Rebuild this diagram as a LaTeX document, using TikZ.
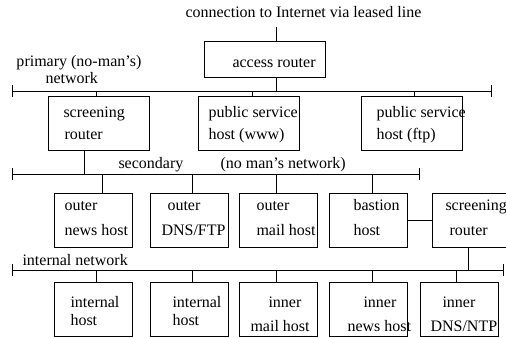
\documentclass[tikz,border=0pt]{standalone}
\usepackage{fontspec}
\setmainfont{Liberation Serif}
\usetikzlibrary{arrows.meta}

\begin{document}
\begin{tikzpicture}[x=0.5pt,y=-0.5pt,line width=0.5pt,font=\fontsize{8}{9.6}\selectfont,
  box/.style={draw,anchor=north west,inner sep=0,minimum width=39pt,minimum height=27pt},
  wbox/.style={box,minimum width=50.5pt},
  lbl/.style={anchor=base west,inner sep=0},
  bus/.style={{Bar[width=6pt]}-{Bar[width=6pt]}}]
\useasboundingbox (0,0) rectangle (506,337);
% leased line and access router
\node[lbl] (inet) at (185,18) {connection to Internet via leased line};
\coordinate (line) at (276,27);
\node[box,minimum width=60.5pt,minimum height=18pt] (acc) at (204,41) {};
\node[lbl] (acct) at (232,67) {access router};
% primary network
\coordinate (pa) at (12,91); \coordinate (pb) at (492,91);
\draw[bus] (pa) -- (pb);
\node[lbl] (prim) at (16,66) {primary (no-man’s)};
\node[lbl] (primb) at (45,83) {network};
\node[wbox] (scr) at (48,96) {};
\node[lbl] (scra) at (63,117) {screening};
\node[lbl] (scrb) at (64,139) {router};
\node[wbox] (www) at (198,96) {};
\node[lbl] (wwwa) at (208,117) {public service};
\node[lbl] (wwwb) at (208,139) {host (www)};
\node[wbox] (ftp) at (361,96) {};
\node[lbl] (ftpa) at (376,117) {public service};
\node[lbl] (ftpb) at (376,139) {host (ftp)};
\draw (line) -- (line |- acc.north);
\draw (line |- acc.south) -- (line |- pa);
\foreach \x/\n in {96/scr,252/www,414/ftp}
  \draw (\x,0 |- pa) -- (\x,0 |- \n.north);
% secondary network
\coordinate (sa) at (12,174); \coordinate (sb) at (420,174);
\draw[bus] (sa) -- (sb);
\draw (84,0 |- scr.south) -- (84,0 |- sa);
\node[lbl] (seca) at (118,168) {secondary};
\node[lbl] (secb) at (220,168) {(no man’s network)};
\node[box] (onh) at (54,193) {};
\node[lbl] (onha) at (64,210) {outer};
\node[lbl] (onhb) at (64,235) {news host};
\node[box] (odns) at (150,193) {};
\node[lbl] (odnsa) at (167,210) {outer};
\node[lbl] (odnsb) at (161,235) {DNS/FTP};
\node[box] (omh) at (239,193) {};
\node[lbl] (omha) at (256,210) {outer};
\node[lbl] (omhb) at (256,235) {mail host};
\node[box] (bas) at (329,193) {};
\node[lbl] (basa) at (353,210) {bastion};
\node[lbl] (basb) at (353,235) {host};
\node[box,minimum width=40pt] (scr2) at (432,193) {};
\node[lbl] (scr2a) at (445,210) {screening};
\node[lbl] (scr2b) at (449,235) {router};
\foreach \x/\n in {102/onh,192/odns,276/omh,372/bas}
  \draw (\x,0 |- sa) -- (\x,0 |- \n.north);
\draw (bas.east) -- (scr2.west);
% internal network
\coordinate (ia) at (12,270); \coordinate (ib) at (504,270);
\draw[bus] (ia) -- (ib);
\draw (468,0 |- scr2.south) -- (468,0 |- ia);
\node[lbl] (int) at (22,265) {internal network};
\node[box] (ih1) at (54,282) {};
\node[lbl] (ih1a) at (70,307) {internal};
\node[lbl] (ih1b) at (70,325) {host};
\node[box] (ih2) at (150,282) {};
\node[lbl] (ih2a) at (172,307) {internal};
\node[lbl] (ih2b) at (172,325) {host};
\node[box] (imh) at (239,282) {};
\node[lbl] (imha) at (268,307) {inner};
\node[lbl] (imhb) at (250,331) {mail host};
\node[box] (inh) at (329,282) {};
\node[lbl] (inha) at (363,307) {inner};
\node[lbl] (inhb) at (347,331) {news host};
\node[box] (idns) at (420,282) {};
\node[lbl] (idnsa) at (442,307) {inner};
\node[lbl] (idnsb) at (430,331) {DNS/NTP};
\foreach \x/\n in {96/ih1,192/ih2,276/imh,372/inh,456/idns}
  \draw (\x,0 |- ia) -- (\x,0 |- \n.north);
\end{tikzpicture}
\end{document}
